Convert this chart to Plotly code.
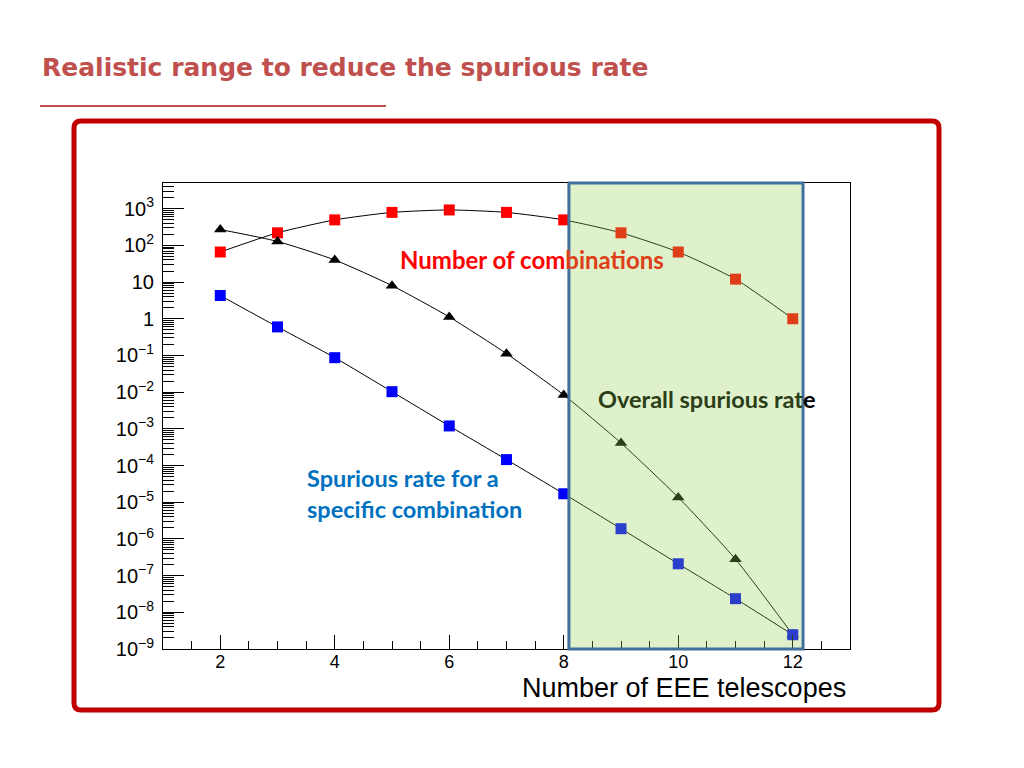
import plotly.graph_objects as go

# ---- data ----
n_telescopes = [2, 3, 4, 5, 6, 7, 8, 9, 10, 11, 12]
n_combinations = [66, 220, 495, 792, 924, 792, 495, 220, 66, 12, 1]
rate_specific = [4.3, 0.6, 0.087, 0.0103, 1.2e-3, 1.45e-4, 1.7e-5, 1.9e-6, 2.1e-7, 2.35e-8, 2.45e-9]
rate_overall = [270, 128, 40, 8.0, 1.12, 0.112, 8.4e-3, 4.1e-4, 1.35e-5, 2.8e-7, 2.45e-9]

y_tickvals = [1e-9, 1e-8, 1e-7, 1e-6, 1e-5, 1e-4, 1e-3, 1e-2, 1e-1, 1, 10, 100, 1000]
y_ticktext = ["10<sup>−9</sup>", "10<sup>−8</sup>", "10<sup>−7</sup>", "10<sup>−6</sup>",
              "10<sup>−5</sup>", "10<sup>−4</sup>", "10<sup>−3</sup>", "10<sup>−2</sup>",
              "10<sup>−1</sup>", "1", "10", "10<sup>2</sup>", "10<sup>3</sup>"]
x_tickvals = [2, 4, 6, 8, 10, 12]

highlight_range = [8.09, 12.18]

# ---- layout geometry (pixels; page offset of 8px from body margin) ----
OFF = 8
W, H = 1016, 760
L, T = 163 - OFF, 183 - OFF
R = W - (850 - OFF)
B = H - (649 - OFF)
PW, PH = W - L - R, H - T - B


def px(x):
    return (x - OFF - L) / PW


def py(y):
    return (H - B - (y - OFF)) / PH


fig = go.Figure()

line_style = dict(color="black", width=1, shape="spline", smoothing=0.6)

fig.add_trace(go.Scatter(x=n_telescopes, y=n_combinations, mode="lines+markers",
                         line=line_style,
                         marker=dict(symbol="square", size=11, color="#ff0000"),
                         showlegend=False))
fig.add_trace(go.Scatter(x=n_telescopes, y=rate_overall, mode="lines+markers",
                         line=line_style,
                         marker=dict(symbol="triangle-up", size=11, color="black"),
                         showlegend=False))
fig.add_trace(go.Scatter(x=n_telescopes, y=rate_specific, mode="lines+markers",
                         line=line_style,
                         marker=dict(symbol="square", size=11, color="#0000ff"),
                         showlegend=False))

tick_font = dict(family="Liberation Sans, Arial, sans-serif", size=19, color="black")

fig.update_xaxes(range=[1, 13], showline=True, linecolor="black", linewidth=1, mirror=True,
                 ticks="inside", ticklen=14, tickwidth=1, tickcolor="black",
                 tickvals=x_tickvals, tickfont=dict(tick_font, size=18), showgrid=False,
                 zeroline=False, ticklabelstandoff=-4,
                 minor=dict(ticks="inside", ticklen=8, dtick=0.5, tickcolor="black", showgrid=False))
fig.update_yaxes(type="log", range=[-9, 3.7], showline=True, linecolor="black", linewidth=1,
                 mirror=True, ticks="inside", ticklen=21, tickwidth=1, tickcolor="black",
                 tickvals=y_tickvals, ticktext=y_ticktext, tickfont=dict(tick_font, size=20),
                 showgrid=False, zeroline=False, ticklabelstandoff=4,
                 minor=dict(ticks="inside", ticklen=11, dtick="D1", tickcolor="black", showgrid=False))

# highlight region (semi-transparent overlay above data)
fig.add_shape(type="rect", xref="x", yref="paper", x0=highlight_range[0], x1=highlight_range[1],
              y0=0, y1=1, fillcolor="rgba(146,208,80,0.3)",
              line=dict(color="#41719c", width=3), layer="above")

# red rounded frame
x0, x1, y0, y1 = px(74), px(939), py(710), py(121)
rx, ry = 7 / PW, 7 / PH
path = (f"M {x0+rx},{y1} L {x1-rx},{y1} Q {x1},{y1} {x1},{y1-ry} "
        f"L {x1},{y0+ry} Q {x1},{y0} {x1-rx},{y0} L {x0+rx},{y0} Q {x0},{y0} {x0},{y0+ry} "
        f"L {x0},{y1-ry} Q {x0},{y1} {x0+rx},{y1} Z")
fig.add_shape(type="path", xref="paper", yref="paper", path=path,
              line=dict(color="#c00000", width=5), fillcolor="rgba(0,0,0,0)", layer="above")

# title underline
fig.add_shape(type="line", xref="paper", yref="paper", x0=px(40), x1=px(386), y0=py(106), y1=py(106),
              line=dict(color="#c0504d", width=2))

ann_font = "Lato, Carlito, sans-serif"
fig.add_annotation(xref="paper", yref="paper", x=px(40), y=py(67), xanchor="left", yanchor="middle",
                   text="<b>Realistic range to reduce the spurious rate</b>", showarrow=False,
                   font=dict(family="DejaVu Sans, sans-serif", size=25, color="#c0504d"))
fig.add_annotation(xref="paper", yref="paper", x=px(398), y=py(259), xanchor="left", yanchor="middle",
                   text="<b>Number of com<span style='color:#de3e18'>binations</span></b>",
                   showarrow=False, font=dict(family=ann_font, size=24, color="#ff0000"))
fig.add_annotation(xref="paper", yref="paper", x=px(596), y=py(399), xanchor="left", yanchor="middle",
                   text="<b>Overall spurious rat<span style='color:black'>e</span></b>",
                   showarrow=False, font=dict(family=ann_font, size=23.5, color="#2c3e18"))
fig.add_annotation(xref="paper", yref="paper", x=px(305), y=py(493), xanchor="left", yanchor="middle",
                   align="left", text="<b>Spurious rate for a<br>specific combination</b>",
                   showarrow=False, font=dict(family=ann_font, size=23.5, color="#0070c0"))
fig.add_annotation(xref="paper", yref="paper", x=px(848), y=py(688), xanchor="right", yanchor="middle",
                   text="Number of EEE telescopes", showarrow=False,
                   font=dict(family="Liberation Sans, Arial, sans-serif", size=27, color="black"))

fig.update_layout(width=W, height=H, margin=dict(l=L, r=R, t=T, b=B, pad=0),
                  paper_bgcolor="white", plot_bgcolor="white")

fig.write_html("out.html")
